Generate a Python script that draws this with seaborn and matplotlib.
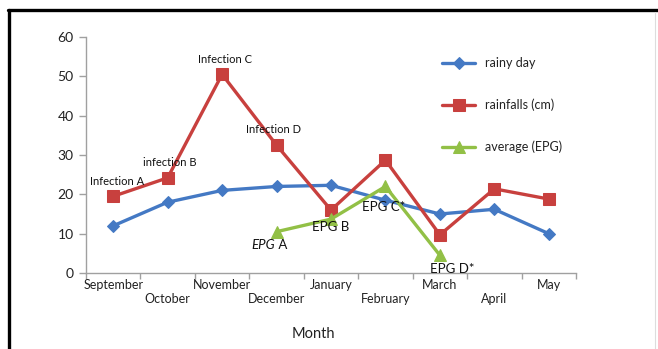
import matplotlib
matplotlib.use("Agg")
import matplotlib.pyplot as plt
from matplotlib.lines import Line2D
import numpy as np
import pandas as pd
import seaborn as sns

months = ["September", "October", "November", "December", "January",
          "February", "March", "April", "May"]
rainy_day = [12, 18, 21, 22, 22.3, 18.5, 15, 16.2, 10]
rainfalls = [19.5, 24.2, 50.5, 32.5, 16, 28.7, 9.7, 21.4, 18.8]
epg_avg = [np.nan, np.nan, np.nan, 10.5, 13.7, 22, 4.5, np.nan, np.nan]
y_ticks = [0, 10, 20, 30, 40, 50, 60]

sns.set_theme(style="white")
plt.rcParams["font.family"] = ["Lato", "DejaVu Sans"]

df = pd.DataFrame({
    "pos": np.arange(len(months)),
    "rainy day": rainy_day,
    "rainfalls (cm)": rainfalls,
    "average (EPG)": epg_avg,
})

fig = plt.figure(figsize=(6.58, 3.49), dpi=100)
ax = fig.add_axes([86 / 658, 1 - 273 / 349, 490 / 658, 236 / 349])

styles = [
    ("rainy day", "#4479C4", "D", 6.5),
    ("rainfalls (cm)", "#C8403E", "s", 8),
    ("average (EPG)", "#92C046", "^", 8),
]
for col, color, marker, ms in styles:
    sub = df.dropna(subset=[col])
    sns.lineplot(data=sub, x="pos", y=col, ax=ax, color=color, lw=2.4,
                 marker=marker, markersize=ms, markeredgecolor=color,
                 label=col)

ax.set_xlim(-0.5, len(months) - 0.5)
ax.set_ylim(0, 60)
ax.set_yticks(y_ticks)
ax.tick_params(axis="y", labelsize=10, length=5, width=1, color="#A0A0A0",
               pad=4, left=True, labelcolor="#222222")

# category boundaries get tick marks; names sit at category centres in two rows
ax.set_xticks(np.arange(-0.5, len(months), 1.0))
ax.set_xticklabels([])
ax.tick_params(axis="x", which="major", length=4, width=1, color="#A0A0A0",
               bottom=True)
ax.set_xticks(np.arange(len(months)), minor=True)
ax.set_xticklabels([m if i % 2 == 0 else "\n" + m for i, m in enumerate(months)],
                   minor=True, fontsize=9, linespacing=1.25)
ax.tick_params(axis="x", which="minor", length=0, pad=4, labelcolor="#222222")

for side in ["top", "right"]:
    ax.spines[side].set_visible(False)
for side in ["left", "bottom"]:
    ax.spines[side].set_color("#A0A0A0")
    ax.spines[side].set_linewidth(1)

ax.set_xlabel("Month", fontsize=10.5, color="#222222")
ax.xaxis.set_label_coords(0.465, -0.23)
ax.set_ylabel("")

ann = dict(fontsize=8, ha="center", va="center", color="#111111")
ax.text(0.07, 23.2, "Infection A", **ann)
ax.text(1.03, 28.0, "infection B", **ann)
ax.text(2.06, 54.2, "Infection C", **ann)
ax.text(2.94, 36.4, "Infection D", **ann)

epg = dict(fontsize=9.5, va="center", color="#111111")
t_a = ax.text(2.97, 7.0, "EPG", ha="right", style="italic", **epg)
ax.annotate(" A", xy=(1, 0), xycoords=t_a, va="bottom", fontsize=9.5,
            color="#111111")
ax.text(3.99, 11.7, "EPG B", ha="center", **epg)
ax.text(4.96, 16.8, "EPG C*", ha="center", **epg)
ax.text(6.23, 1.0, "EPG D*", ha="center", **epg)

leg = ax.legend(loc="upper left", bbox_to_anchor=(431 / 658, 1 - 46 / 349),
                bbox_transform=fig.transFigure, frameon=False, fontsize=9,
                handlelength=2.6, labelspacing=2.35, handletextpad=0.8)
for txt in leg.get_texts():
    txt.set_color("#222222")

# outer frame of the figure
fig.add_artist(Line2D([8 / 658, 1.0], [1 - 10 / 349] * 2, color="black",
                      lw=2.4, transform=fig.transFigure))
fig.add_artist(Line2D([9 / 658] * 2, [0.0, 1 - 10 / 349], color="black",
                      lw=2.4, transform=fig.transFigure))
fig.add_artist(Line2D([655 / 658] * 2, [0.0, 1 - 12 / 349], color="#DDDDDD",
                      lw=0.8, transform=fig.transFigure))

fig.savefig("out.png", dpi=100)
